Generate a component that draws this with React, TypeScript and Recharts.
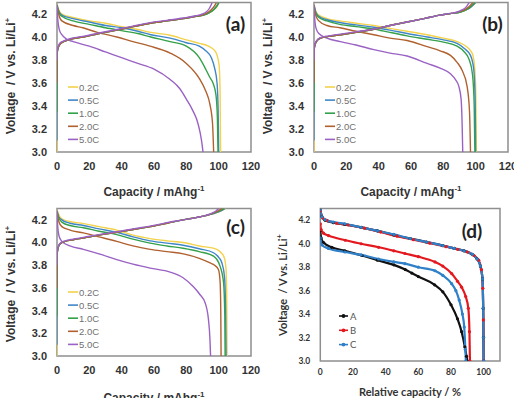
import { Line, LineChart, ReferenceArea, XAxis, YAxis } from "recharts";

type Pt = [number, number];

const rateLabels = ["0.2C", "0.5C", "1.0C", "2.0C", "5.0C"];
const rateColors = ["#f3d24c", "#3f86c8", "#33a04a", "#b0612f", "#9a62c4"];
const sampleLabels = ["A", "B", "C"];
const sampleColors = ["#111111", "#e3191f", "#2f80c8"];

const capacityTicks = [0, 20, 40, 60, 80, 100, 120];
const relativeTicks = [0, 20, 40, 60, 80, 100];
const voltageTicks = [3.0, 3.2, 3.4, 3.6, 3.8, 4.0, 4.2];

// (a) discharge / charge, [capacity mAh/g, voltage V]
const aDis02: Pt[] = [[0, 4.29], [1, 4.24], [3, 4.2], [10, 4.17], [20, 4.14], [30, 4.12], [40, 4.09], [50, 4.065], [58, 4.04], [70, 4.015], [80, 3.975], [88, 3.945], [93.7, 3.92], [97, 3.89], [98.8, 3.85], [100.3, 3.75], [100.9, 3.5], [101.2, 3.0]];
const aDis05: Pt[] = [[0, 4.28], [1, 4.23], [3, 4.19], [10, 4.16], [20, 4.13], [30, 4.1], [40, 4.08], [50, 4.05], [58, 4.02], [70, 3.99], [80, 3.95], [88, 3.92], [92, 3.88], [95.5, 3.82], [97.5, 3.73], [99, 3.6], [99.7, 3.35], [100, 3.0]];
const aDis10: Pt[] = [[0, 4.28], [1, 4.22], [3, 4.18], [10, 4.14], [20, 4.11], [30, 4.08], [40, 4.055], [50, 4.03], [58, 4.0], [70, 3.96], [80, 3.92], [88, 3.82], [92, 3.72], [94.5, 3.65], [96.5, 3.6], [98.3, 3.5], [99.2, 3.3], [99.6, 3.0]];
const aDis20: Pt[] = [[0, 4.27], [1, 4.2], [3, 4.14], [10, 4.1], [16, 4.08], [25, 4.04], [37, 4.0], [47, 3.96], [57.6, 3.92], [70, 3.86], [80, 3.77], [88, 3.64], [92, 3.53], [94.5, 3.42], [96.2, 3.25], [96.9, 3.0]];
const aDis50: Pt[] = [[0, 4.28], [0.5, 4.15], [1.5, 4.06], [3, 4.02], [6, 3.98], [10, 3.96], [20, 3.92], [30, 3.87], [40, 3.82], [50, 3.77], [60, 3.72], [70, 3.63], [76, 3.55], [80, 3.46], [84, 3.36], [86.5, 3.28], [88.5, 3.17], [89.7, 3.07], [90.3, 3.0]];

const aChg02: Pt[] = [[0, 3.0], [0.08, 3.86], [0.8, 3.91], [2, 3.94], [4, 3.96], [8, 3.98], [16, 4.0], [26, 4.03], [37, 4.06], [47, 4.09], [57.6, 4.12], [68, 4.14], [78, 4.16], [86, 4.18], [90.6, 4.19], [94, 4.21], [97, 4.235], [99, 4.265], [100.4, 4.3]];
const aChg05: Pt[] = [[0, 3.1], [0.08, 3.86], [0.8, 3.91], [2, 3.94], [4, 3.96], [8, 3.98], [16, 4.0], [26, 4.03], [37, 4.06], [47, 4.09], [57.6, 4.12], [68, 4.14], [78, 4.16], [86, 4.18], [90.6, 4.19], [94, 4.21], [97, 4.24], [99, 4.27], [100.2, 4.3]];
const aChg10: Pt[] = [[0, 3.35], [0.08, 3.86], [0.8, 3.91], [2, 3.94], [4, 3.96], [8, 3.98], [16, 4.0], [26, 4.03], [37, 4.06], [47, 4.09], [57.6, 4.12], [68, 4.14], [78, 4.16], [86, 4.18], [90.6, 4.19], [94, 4.21], [97, 4.24], [98.8, 4.27], [100, 4.3]];
const aChg20: Pt[] = [[0, 3.6], [0.08, 3.86], [0.8, 3.91], [2, 3.94], [4, 3.96], [8, 3.98], [16, 4.0], [26, 4.03], [37, 4.06], [47, 4.09], [57.6, 4.12], [68, 4.14], [78, 4.16], [86, 4.18], [90.6, 4.195], [93.5, 4.215], [96, 4.245], [97.6, 4.275], [98.6, 4.3]];
const aChg50: Pt[] = [[0, 3.8], [0.08, 3.87], [0.8, 3.92], [2, 3.95], [4, 3.965], [8, 3.985], [16, 4.005], [26, 4.035], [37, 4.065], [47, 4.095], [57.6, 4.125], [68, 4.145], [78, 4.165], [86, 4.185], [90, 4.2], [92.5, 4.22], [94.3, 4.25], [95.4, 4.28], [96, 4.3]];

// (b)
const bDis02: Pt[] = [[0, 4.29], [1, 4.23], [3, 4.19], [8, 4.16], [16, 4.14], [26, 4.12], [37, 4.1], [47, 4.075], [57.6, 4.05], [70, 4.02], [80, 3.99], [88.5, 3.96], [94, 3.92], [97.8, 3.86], [99.3, 3.75], [100.1, 3.5], [100.5, 3.0]];
const bDis05: Pt[] = [[0, 4.28], [1, 4.22], [3, 4.18], [8, 4.15], [16, 4.126], [26, 4.105], [37, 4.085], [47, 4.06], [57.6, 4.03], [70, 4.0], [80, 3.975], [88.5, 3.945], [93, 3.9], [96.8, 3.84], [98.8, 3.72], [99.7, 3.45], [100, 3.0]];
const bDis10: Pt[] = [[0, 4.28], [1, 4.21], [3, 4.17], [8, 4.14], [16, 4.11], [26, 4.09], [37, 4.07], [47, 4.04], [57.6, 4.01], [70, 3.98], [80, 3.955], [88.5, 3.92], [93, 3.87], [95.8, 3.81], [98, 3.68], [99.1, 3.4], [99.5, 3.0]];
const bDis20: Pt[] = [[0, 4.27], [1, 4.19], [3, 4.14], [8, 4.1], [16, 4.08], [26, 4.05], [37, 4.02], [47, 3.99], [57.6, 3.97], [70, 3.916], [78, 3.88], [84.4, 3.84], [88.5, 3.78], [91.6, 3.71], [94.7, 3.57], [96.2, 3.35], [96.8, 3.0]];
const bDis50: Pt[] = [[0, 4.28], [0.4, 4.17], [1.2, 4.08], [3, 4.03], [8, 3.99], [16.3, 3.96], [26, 3.93], [37, 3.89], [47, 3.86], [57.6, 3.835], [70, 3.77], [78, 3.73], [84.4, 3.68], [87.5, 3.63], [89.6, 3.57], [91, 3.46], [91.7, 3.2], [92, 3.0]];

const bChg02: Pt[] = [[0, 3.0], [0.08, 3.89], [0.8, 3.94], [2, 3.97], [4, 3.99], [9, 4.005], [16.3, 4.02], [26, 4.04], [37, 4.067], [47, 4.1], [57.6, 4.13], [68, 4.16], [78, 4.19], [85, 4.205], [90, 4.215], [94, 4.235], [97, 4.26], [99, 4.285], [100.4, 4.3]];
const bChg05: Pt[] = [[0, 3.1], [0.08, 3.89], [0.8, 3.94], [2, 3.97], [4, 3.99], [9, 4.005], [16.3, 4.02], [26, 4.04], [37, 4.067], [47, 4.1], [57.6, 4.13], [68, 4.16], [78, 4.19], [85, 4.205], [90, 4.215], [94, 4.235], [97, 4.26], [99, 4.285], [100, 4.3]];
const bChg10: Pt[] = [[0, 3.35], [0.08, 3.89], [0.8, 3.94], [2, 3.97], [4, 3.99], [9, 4.005], [16.3, 4.02], [26, 4.04], [37, 4.067], [47, 4.1], [57.6, 4.13], [68, 4.16], [78, 4.19], [85, 4.205], [90, 4.215], [94, 4.235], [97, 4.265], [98.8, 4.29], [99.6, 4.3]];
const bChg20: Pt[] = [[0, 3.6], [0.08, 3.89], [0.8, 3.94], [2, 3.97], [4, 3.99], [9, 4.005], [16.3, 4.02], [26, 4.04], [37, 4.067], [47, 4.1], [57.6, 4.13], [68, 4.16], [78, 4.19], [85, 4.205], [90, 4.22], [93.5, 4.24], [96, 4.265], [97.6, 4.29], [98.4, 4.3]];
const bChg50: Pt[] = [[0, 3.8], [0.08, 3.9], [0.8, 3.95], [2, 3.975], [4, 3.995], [9, 4.01], [16.3, 4.025], [26, 4.045], [37, 4.07], [47, 4.1], [57.6, 4.13], [68, 4.16], [78, 4.19], [84, 4.205], [88, 4.215], [91.5, 4.235], [94, 4.26], [95.3, 4.285], [96, 4.3]];

// (c)
const cDis02: Pt[] = [[0, 4.29], [1, 4.25], [3, 4.21], [8, 4.185], [16.3, 4.167], [26, 4.14], [37, 4.11], [47, 4.065], [57.6, 4.035], [68, 4.015], [78, 4.0], [88, 3.97], [98.9, 3.94], [101.5, 3.91], [103.4, 3.87], [104.6, 3.76], [105, 3.5], [105.2, 3.0]];
const cDis05: Pt[] = [[0, 4.28], [1, 4.23], [3, 4.2], [8, 4.17], [16.3, 4.15], [26, 4.12], [37, 4.09], [47, 4.05], [57.6, 4.015], [68, 3.995], [78, 3.976], [88, 3.945], [96.8, 3.91], [100, 3.87], [102, 3.82], [103.6, 3.7], [104.3, 3.4], [104.6, 3.0]];
const cDis10: Pt[] = [[0, 4.28], [1, 4.22], [3, 4.18], [8, 4.15], [16.3, 4.13], [26, 4.1], [37, 4.07], [47, 4.03], [57.6, 3.995], [68, 3.97], [78, 3.95], [88, 3.92], [96.8, 3.88], [100.9, 3.79], [103, 3.65], [103.8, 3.35], [104, 3.0]];
const cDis20: Pt[] = [[0, 4.27], [1, 4.19], [3, 4.14], [8, 4.11], [16.3, 4.085], [26, 4.05], [37, 4.01], [47, 3.97], [57.6, 3.94], [68, 3.92], [78.2, 3.9], [88, 3.86], [94.7, 3.82], [97.5, 3.8], [99.9, 3.76], [100.9, 3.65], [101.3, 3.4], [101.5, 3.0]];
const cDis50: Pt[] = [[0, 4.28], [0.4, 4.15], [1.2, 4.06], [3, 4.01], [8, 3.97], [16.3, 3.94], [26, 3.9], [37, 3.85], [47, 3.81], [57.6, 3.775], [70, 3.74], [78, 3.69], [84.4, 3.61], [88.5, 3.54], [91.6, 3.47], [93.7, 3.32], [94.6, 3.15], [95, 3.0]];

const cChg02: Pt[] = [[0, 3.0], [0.08, 3.9], [0.8, 3.96], [2, 3.99], [5, 4.01], [10, 4.025], [16.3, 4.04], [26, 4.065], [37, 4.09], [47, 4.115], [57.6, 4.14], [68, 4.17], [78, 4.2], [86, 4.22], [92.7, 4.24], [97, 4.255], [100, 4.27], [102.5, 4.285], [104.3, 4.3]];
const cChg05: Pt[] = [[0, 3.1], [0.08, 3.9], [0.8, 3.96], [2, 3.99], [5, 4.01], [10, 4.025], [16.3, 4.04], [26, 4.065], [37, 4.09], [47, 4.115], [57.6, 4.14], [68, 4.17], [78, 4.2], [86, 4.22], [92.7, 4.24], [97, 4.255], [100, 4.27], [102.3, 4.285], [104, 4.3]];
const cChg10: Pt[] = [[0, 3.35], [0.08, 3.9], [0.8, 3.96], [2, 3.99], [5, 4.01], [10, 4.025], [16.3, 4.04], [26, 4.065], [37, 4.09], [47, 4.115], [57.6, 4.14], [68, 4.17], [78, 4.2], [86, 4.22], [92.7, 4.24], [97, 4.26], [100, 4.275], [102, 4.29], [103.5, 4.3]];
const cChg20: Pt[] = [[0, 3.6], [0.08, 3.9], [0.8, 3.96], [2, 3.99], [5, 4.01], [10, 4.025], [16.3, 4.04], [26, 4.065], [37, 4.09], [47, 4.115], [57.6, 4.14], [68, 4.17], [78, 4.2], [86, 4.22], [92.7, 4.24], [96.5, 4.26], [99.5, 4.28], [101.5, 4.295], [102.3, 4.3]];
const cChg50: Pt[] = [[0, 3.8], [0.08, 3.91], [0.8, 3.965], [2, 3.995], [5, 4.015], [10, 4.03], [16.3, 4.045], [26, 4.07], [37, 4.095], [47, 4.12], [57.6, 4.145], [68, 4.175], [78, 4.2], [86, 4.22], [92, 4.24], [96, 4.26], [98.5, 4.28], [100, 4.3]];

// (d) relative capacity %, voltage V
const dUpperA: Pt[] = [[0, 4.29], [1, 4.23], [3, 4.2], [8, 4.18], [15, 4.165], [25, 4.14], [35, 4.11], [45, 4.075], [55, 4.045], [65, 4.015], [75, 3.985], [82, 3.96], [88, 3.94], [93, 3.91], [96, 3.87], [98, 3.81], [99.3, 3.7], [99.7, 3.45], [99.9, 3.2], [100, 3.0]];
const dUpperB: Pt[] = [[0, 4.28], [1.5, 4.22], [4, 4.2], [10, 4.175], [17, 4.16], [27, 4.133], [37, 4.1], [47, 4.065], [57, 4.035], [67, 4.005], [77, 3.975], [84, 3.953], [90, 3.93], [94, 3.9], [97, 3.86], [98.6, 3.78], [99.5, 3.62], [99.8, 3.35], [100, 3.0]];
const dUpperC: Pt[] = [[0, 4.29], [1, 4.23], [3, 4.205], [8, 4.185], [15, 4.17], [25, 4.14], [35, 4.11], [45, 4.08], [55, 4.045], [65, 4.015], [75, 3.985], [82, 3.96], [88, 3.94], [93, 3.91], [96, 3.87], [98, 3.81], [99.3, 3.7], [99.7, 3.45], [99.9, 3.2], [100, 3.0]];
const dLowerA: Pt[] = [[0, 4.11], [0.5, 4.05], [2, 4.01], [7, 3.97], [15, 3.94], [25.5, 3.9], [35, 3.86], [45, 3.82], [52, 3.78], [56, 3.75], [60, 3.72], [70, 3.65], [75, 3.59], [80, 3.48], [84, 3.36], [86.5, 3.25], [88.5, 3.12], [89.5, 3.04], [90, 3.0]];
const dLowerB: Pt[] = [[0, 4.17], [0.5, 4.12], [2, 4.09], [5, 4.07], [15.3, 4.03], [25, 4.0], [35.7, 3.97], [45, 3.94], [51.8, 3.917], [60, 3.89], [70.2, 3.845], [75, 3.81], [80.4, 3.746], [84, 3.68], [86.5, 3.63], [89, 3.55], [90.6, 3.45], [91.3, 3.25], [91.6, 3.0]];
const dLowerC: Pt[] = [[0, 4.05], [1, 3.99], [5, 3.96], [15, 3.93], [25, 3.905], [35.7, 3.87], [45, 3.845], [51.8, 3.83], [60, 3.8], [70.2, 3.77], [75, 3.73], [80.4, 3.66], [83, 3.6], [85, 3.52], [87, 3.4], [88.1, 3.29], [88.8, 3.1], [89.1, 3.0]];

const SANS = "'Liberation Sans', Arial, sans-serif";
const ROUND = "Lato, 'Open Sans', sans-serif";
const FRAME = "#8f8f8f";
const INK = "#333333";

const rows = (pts: Pt[]) => pts.map(([c, v]) => ({ c, v }));

type RatePanelProps = {
  left: number;
  top: number;
  width: number;
  plotTop: number;
  plotBottom: number;
  plotRight: number;
  tag: string;
  tagY: number;
  yTitleY: number;
  xTitleY: number;
  keyTop: number;
  discharge: Pt[][];
  charge: Pt[][];
};

function RatePanel(p: RatePanelProps) {
  const H = 200;
  const axisH = 30;
  return (
    <div style={{ position: "absolute", left: p.left, top: p.top }}>
      <LineChart
        width={p.width}
        height={H}
        margin={{ top: p.plotTop, right: p.width - p.plotRight, bottom: H - p.plotBottom - axisH, left: 0 }}
      >
        <ReferenceArea x1={0} x2={120} y1={3} y2={4.3} fill="none" stroke={FRAME} strokeWidth={1.5} />
        <XAxis
          type="number"
          dataKey="c"
          domain={[0, 120]}
          ticks={capacityTicks}
          interval={0}
          allowDataOverflow
          axisLine={false}
          tickLine={false}
          tickSize={0}
          tickMargin={10}
          height={axisH}
          tick={{ fill: INK, fontSize: 11, fontWeight: 700, fontFamily: SANS }}
        />
        <YAxis
          type="number"
          dataKey="v"
          domain={[3, 4.3]}
          ticks={voltageTicks}
          interval={0}
          allowDataOverflow
          axisLine={false}
          tickLine={false}
          tickSize={0}
          tickMargin={10}
          width={57}
          tickFormatter={(v: number) => v.toFixed(1)}
          tick={{ fill: INK, fontSize: 11, fontWeight: 700, fontFamily: SANS }}
        />
        {p.discharge.map((d, i) => (
          <Line key={`d${i}`} data={rows(d)} dataKey="v" type="monotone" stroke={rateColors[i]} strokeWidth={1.4} dot={false} isAnimationActive={false} />
        ))}
        {p.charge.map((d, i) => (
          <Line key={`c${i}`} data={rows(d)} dataKey="v" type="monotone" stroke={rateColors[i]} strokeWidth={1.4} dot={false} isAnimationActive={false} />
        ))}
        {rateLabels.map((r, i) => (
          <g key={r}>
            <line x1={68} x2={78} y1={p.keyTop + i * 13.1} y2={p.keyTop + i * 13.1} stroke={rateColors[i]} strokeWidth={1.6} />
            <text x={79} y={p.keyTop + i * 13.1} dominantBaseline="central" fontSize={9.5} fill="#707070" fontFamily={SANS}>
              {r}
            </text>
          </g>
        ))}
        <text x={235.5} y={p.tagY} textAnchor="middle" dominantBaseline="central" fontSize={19} fontWeight={700} fill="#222" fontFamily={ROUND}>
          {p.tag}
        </text>
        <text
          transform={`translate(11 ${p.yTitleY}) rotate(-90)`}
          textAnchor="middle"
          dominantBaseline="central"
          fontSize={12}
          fontWeight={700}
          fill={INK}
          fontFamily={SANS}
          style={{ whiteSpace: "pre" }}
        >
          Voltage  / V vs. Li/Li<tspan fontSize={8} dy={-4}>+</tspan>
        </text>
        <text x={154} y={p.xTitleY} textAnchor="middle" dominantBaseline="central" fontSize={12} fontWeight={700} fill={INK} fontFamily={SANS}>
          Capacity / mAhg<tspan fontSize={8} dy={-4}>-1</tspan>
        </text>
      </LineChart>
    </div>
  );
}

function RelativePanel() {
  const H = 200;
  const axisH = 30;
  const upper = [dUpperA, dUpperB, dUpperC];
  const lower = [dLowerA, dLowerC, dLowerB];
  const lowerColor = [sampleColors[0], sampleColors[2], sampleColors[1]];
  return (
    <div style={{ position: "absolute", left: 257, top: 198 }}>
      <LineChart width={257} height={H} margin={{ top: 10.6, right: 14, bottom: H - 163 - axisH, left: 0 }}>
        <ReferenceArea x1={0} x2={110} y1={3} y2={4.3} fill="none" stroke={FRAME} strokeWidth={1.5} />
        <XAxis
          type="number"
          dataKey="c"
          domain={[0, 110]}
          ticks={relativeTicks}
          interval={0}
          allowDataOverflow
          axisLine={false}
          tickLine={false}
          tickSize={0}
          tickMargin={8}
          height={axisH}
          tick={{ fill: INK, fontSize: 8.5, fontWeight: 700, fontFamily: ROUND }}
        />
        <YAxis
          type="number"
          dataKey="v"
          domain={[3, 4.3]}
          ticks={voltageTicks}
          interval={0}
          allowDataOverflow
          axisLine={false}
          tickLine={false}
          tickSize={0}
          tickMargin={10}
          width={63.3}
          tickFormatter={(v: number) => v.toFixed(1)}
          tick={{ fill: INK, fontSize: 8.5, fontWeight: 700, fontFamily: ROUND }}
        />
        {lower.map((d, i) => (
          <Line key={`l${i}`} data={rows(d)} dataKey="v" type="monotone" stroke={lowerColor[i]} strokeWidth={2.2} dot={{ r: 1.6, fill: lowerColor[i], stroke: "none" }} isAnimationActive={false} />
        ))}
        {upper.map((d, i) => (
          <Line key={`u${i}`} data={rows(d)} dataKey="v" type="monotone" stroke={sampleColors[i]} strokeWidth={2.2} dot={{ r: 1.6, fill: sampleColors[i], stroke: "none" }} isAnimationActive={false} />
        ))}
        {sampleLabels.map((s, i) => (
          <g key={s}>
            <line x1={82} x2={91} y1={118 + i * 14.3} y2={118 + i * 14.3} stroke={sampleColors[i]} strokeWidth={1.6} />
            <circle cx={86.5} cy={118 + i * 14.3} r={1.9} fill={sampleColors[i]} />
            <text x={93} y={118 + i * 14.3} dominantBaseline="central" fontSize={9.5} fill="#555" fontFamily={ROUND}>
              {s}
            </text>
          </g>
        ))}
        <text x={215} y={32} textAnchor="middle" dominantBaseline="central" fontSize={19} fontWeight={700} fill="#222" fontFamily={ROUND}>
          (d)
        </text>
        <text
          transform="translate(25 87) rotate(-90)"
          textAnchor="middle"
          dominantBaseline="central"
          fontSize={11}
          fontWeight={700}
          fill={INK}
          fontFamily={ROUND}
          style={{ whiteSpace: "pre" }}
        >
          Voltage  / V vs. Li/Li<tspan fontSize={7.5} dy={-3.5}>+</tspan>
        </text>
        <text x={153} y={193} textAnchor="middle" dominantBaseline="central" fontSize={11} fontWeight={700} fill={INK} fontFamily={ROUND}>
          Relative capacity / %
        </text>
      </LineChart>
    </div>
  );
}

export default function App() {
  return (
    <div style={{ position: "absolute", left: 0, top: 0, width: 514, height: 398, background: "#fff", overflow: "hidden" }}>
      <RatePanel
        left={0}
        top={0}
        width={262}
        plotTop={2.5}
        plotBottom={152}
        plotRight={251}
        tag="(a)"
        tagY={23}
        yTitleY={76}
        xTitleY={192}
        keyTop={87}
        discharge={[aDis02, aDis05, aDis10, aDis20, aDis50]}
        charge={[aChg02, aChg05, aChg10, aChg20, aChg50]}
      />
      <RatePanel
        left={257}
        top={0}
        width={257}
        plotTop={2.5}
        plotBottom={152}
        plotRight={251}
        tag="(b)"
        tagY={23}
        yTitleY={76}
        xTitleY={192}
        keyTop={87}
        discharge={[bDis02, bDis05, bDis10, bDis20, bDis50]}
        charge={[bChg02, bChg05, bChg10, bChg20, bChg50]}
      />
      <RatePanel
        left={0}
        top={198}
        width={262}
        plotTop={10.5}
        plotBottom={158}
        plotRight={251}
        tag="(c)"
        tagY={28}
        yTitleY={86}
        xTitleY={200}
        keyTop={94}
        discharge={[cDis02, cDis05, cDis10, cDis20, cDis50]}
        charge={[cChg02, cChg05, cChg10, cChg20, cChg50]}
      />
      <RelativePanel />
    </div>
  );
}
